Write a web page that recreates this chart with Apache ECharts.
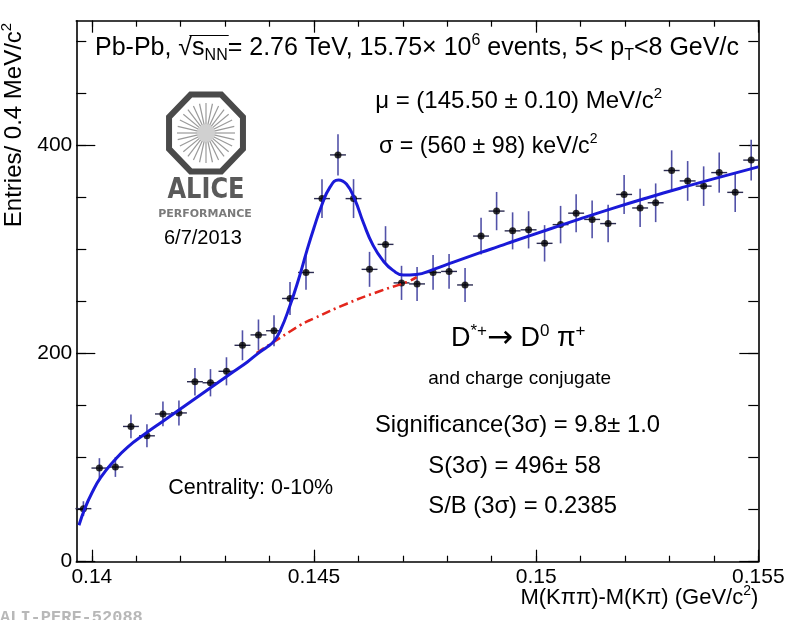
<!DOCTYPE html>
<html><head><meta charset="utf-8">
<script src="https://cdn.jsdelivr.net/npm/echarts@6/dist/echarts.min.js"></script>
<style>html,body{margin:0;padding:0;background:#fff}#c{width:785px;height:620px}</style>
</head><body><div id="c"></div>
<script>
// ---- data ----
const xCenters = [0.13981,0.14017,0.14053,0.14088,0.14124,0.14160,0.14196,0.14232,0.14267,0.14303,
  0.14339,0.14375,0.14410,0.14446,0.14482,0.14518,0.14554,0.14589,0.14625,0.14661,
  0.14697,0.14732,0.14768,0.14804,0.14840,0.14876,0.14911,0.14947,0.14983,0.15019,
  0.15055,0.15090,0.15126,0.15162,0.15198,0.15234,0.15269,0.15305,0.15341,0.15377,
  0.15412,0.15448,0.15484];
const counts = [51,90,91,130,121,142,143,173,172,183,
  208,218,222,253,278,349,391,349,281,305,
  268,267,278,279,266,313,337,318,319,306,
  324,335,329,325,353,340,345,376,366,361,
  374,355,386];
const errors = [7.1,9.5,9.5,11.4,11.0,11.9,12.0,13.2,13.1,13.5,
  14.4,14.8,14.9,15.9,16.7,18.7,19.8,18.7,16.8,17.5,
  16.4,16.3,16.7,16.7,16.3,17.7,18.4,17.8,17.9,17.5,
  18.0,18.3,18.1,18.0,18.8,18.4,18.6,19.4,19.1,19.0,
  19.3,18.8,19.6];
const fitX = [0.13971,0.13985,0.14000,0.14020,0.14050,0.14080,0.14120,0.14160,0.14200,0.14240,
  0.14280,0.14320,0.14350,0.14375,0.14395,0.14410,0.14425,0.14445,0.14465,0.14484,
  0.14500,0.14516,0.14536,0.14555,0.14573,0.14592,0.14611,0.14633,0.14656,0.14678,
  0.14701,0.14730,0.14769,0.14814,0.14874,0.14919,0.14949,0.15024,0.15099,0.15174,
  0.15249,0.15324,0.15399,0.15500];
const fitY = [35,52,66,81,97,110,123,135,147,159,
  171,183,192,200.5,206.5,212,223,245,271,299,
  321,341,360,367,363,348,326,304,289,280,
  275.5,276,281,288,297,303.5,308,318.8,329.5,339.8,
  349.6,359,368,379.5];
const bgX = [0.14371,0.14469,0.14499,0.14574,0.14649,0.14709,0.14731];
const bgY = [200.5,227.3,233.7,248,260.2,268.8,273.6];
const xMajorTicks = [0.14,0.145,0.15,0.155];
const xTickLabels = ['0.14','0.145','0.15','0.155'];
const xMinorTicks = [0.14,0.141,0.142,0.143,0.144,0.145,0.146,0.147,0.148,0.149,0.15,0.151,0.152,0.153,0.154,0.155];
const yMajorTicks = [0,200,400];
const yTickLabels = ['0','200','400'];
const yMinorTicks = [0,50,100,150,200,250,300,350,400,450,500];
const X_MIN = 0.13965, X_MAX = 0.155, Y_MIN = 0, Y_MAX = 520;
const BIN_HALF = 0.000179;

// ---- chart ----
const F = '"Liberation Sans", Arial, Helvetica, sans-serif';
const chart = echarts.init(document.getElementById('c'), null, {renderer:'canvas'});

function lookup(vals, labels, v){ for (let i=0;i<vals.length;i++){ if (Math.abs(vals[i]-v)<1e-9) return labels[i]; } return ''; }
const tickLine = {color:'#000', width:1.2};
function xAx(pos, ticks, len, showLine, showLabel){
  return {type:'value', min:X_MIN, max:X_MAX, position:pos, gridIndex:0,
    axisLine:{show:showLine, onZero:false, lineStyle:{color:'#000', width:1.6}},
    axisTick:{show:true, inside:true, length:len, customValues:ticks, lineStyle:tickLine},
    axisLabel:{show:showLabel, customValues:xMajorTicks, formatter:v=>lookup(xMajorTicks,xTickLabels,v),
      fontSize:21, fontFamily:F, color:'#000', margin:5, hideOverlap:false, showMinLabel:true, showMaxLabel:true},
    splitLine:{show:false}};
}
function yAx(pos, ticks, len, showLine, showLabel){
  return {type:'value', min:Y_MIN, max:Y_MAX, position:pos, gridIndex:0,
    axisLine:{show:showLine, onZero:false, lineStyle:{color:'#000', width:1.6}},
    axisTick:{show:true, inside:true, length:len, customValues:ticks, lineStyle:tickLine},
    axisLabel:{show:showLabel, customValues:yMajorTicks, formatter:v=>lookup(yMajorTicks,yTickLabels,v),
      fontSize:21, fontFamily:F, color:'#000', margin:4, hideOverlap:false, showMinLabel:true, showMaxLabel:true},
    splitLine:{show:false}};
}

function renderItem(params, api){
  const x = api.value(0), y = api.value(1), e = api.value(2);
  const pL = api.coord([x-BIN_HALF, y]), pR = api.coord([x+BIN_HALF, y]);
  const pT = api.coord([x, y+e]), pB = api.coord([x, y-e]);
  return {type:'group', children:[
    {type:'line', shape:{x1:pT[0],y1:pT[1],x2:pB[0],y2:pB[1]}, style:{stroke:'#5252a8', lineWidth:1.6}},
    {type:'line', shape:{x1:pL[0],y1:pL[1],x2:pR[0],y2:pR[1]}, style:{stroke:'#2c2c52', lineWidth:1.4}}
  ]};
}

// text measurement for the sqrt overline
const mctx = document.createElement('canvas').getContext('2d');
function tw(t, size){ mctx.font = size+'px '+F; return mctx.measureText(t).width; }
const TITLE_X = 95, TITLE_Y = 48, TS = 25, TSS = 16;
const olx0 = TITLE_X + tw('Pb-Pb, ', TS) + tw('√', TS)*0.8;
const olx1 = TITLE_X + tw('Pb-Pb, √s', TS) + tw('NN', TSS) + 1;

// ALICE logo pieces
const LCX = 206, LCY = 133, LR = 40;
const octPts = [];
for (let k=0;k<8;k++){ const a = Math.PI/8 + k*Math.PI/4; octPts.push([LCX + LR*Math.cos(a), LCY + LR*1.04*Math.sin(a)]); }
const rays = [];
for (let k=0;k<28;k++){ const a = k*2*Math.PI/28; rays.push({type:'line', shape:{x1:LCX+5*Math.cos(a), y1:LCY+5*Math.sin(a), x2:LCX+29*Math.cos(a), y2:LCY+30*Math.sin(a)}, style:{stroke:'#9a9a9a', lineWidth:1.2}}); }

function txt(x, y, text, size, align, extraRich){
  const ss = Math.round(size*0.62);
  return {type:'text', x:x, y:y, z:100, style:{text:text, fontSize:size, fontFamily:F, fill:'#000', align:align||'left', verticalAlign:'middle',
    rich:Object.assign({n:{fontSize:size, lineHeight:size+6, fontFamily:F, fill:'#000'},
      sup:{fontSize:ss, lineHeight:ss, verticalAlign:'top', fontFamily:F, fill:'#000'},
      sub:{fontSize:ss, lineHeight:ss, verticalAlign:'bottom', fontFamily:F, fill:'#000'}}, extraRich||{})}};
}

const graphics = [
  txt(TITLE_X, TITLE_Y, '{n|Pb-Pb, √s}{sub|NN}{n|= 2.76 TeV, 15.75× 10}{sup|6}{n| events, 5< p}{sub|T}{n|<8 GeV/c}', TS),
  {type:'line', z:100, shape:{x1:olx0, y1:TITLE_Y-12.5, x2:olx1, y2:TITLE_Y-12.5}, style:{stroke:'#000', lineWidth:1.2}},
  txt(662, 101, '{n|μ = (145.50 ± 0.10) MeV/c}{sup|2}', 24, 'right'),
  txt(379, 147, '{n|σ = (560 ± 98) keV/c}{sup|2}', 23.2),
  txt(451, 339, '{n|D}{sup|*+}{arr|→}{n| D}{sup|0}{n| π}{sup|+}', 27, 'left',
      {arr:{fontSize:31, lineHeight:33, fontFamily:'"DejaVu Sans", sans-serif', fill:'#000'}}),
  txt(428.3, 378.3, 'and charge conjugate', 19),
  txt(375, 425, 'Significance(3σ) = 9.8± 1.0', 23.8),
  txt(428.3, 466.7, 'S(3σ) = 496± 58', 23.8),
  txt(428.3, 506.7, 'S/B (3σ) = 0.2385', 23.8),
  txt(168.3, 488.3, 'Centrality: 0-10%', 21.5),
  txt(164, 238.3, '6/7/2013', 20),
  {type:'text', x:14, y:125, rotation:Math.PI/2, z:100, style:{text:'{n|Entries/ 0.4 MeV/c}{sup|2}', align:'center', verticalAlign:'middle',
    rich:{n:{fontSize:24, lineHeight:30, fontFamily:F, fill:'#000'}, sup:{fontSize:15, lineHeight:15, verticalAlign:'top', fontFamily:F, fill:'#000'}}}},
  {type:'text', x:758.3, y:598, z:100, style:{text:'{n|M(Kππ)-M(Kπ) (GeV/c}{sup|2}{n|)}', align:'right', verticalAlign:'middle',
    rich:{n:{fontSize:22, lineHeight:28, fontFamily:F, fill:'#000'}, sup:{fontSize:14, lineHeight:14, verticalAlign:'top', fontFamily:F, fill:'#000'}}}},
  {type:'text', x:0, y:609, z:100, style:{text:'ALI-PERF-52088', fontSize:17, fontFamily:'"Liberation Mono", "DejaVu Sans Mono", monospace', fontWeight:'bold', fill:'#b8b8b8', align:'left', verticalAlign:'top'}},
  // logo
  {type:'circle', z:90, shape:{cx:LCX, cy:LCY, r:9}, style:{fill:'#d0d0d0'}},
  {type:'group', z:91, children:rays},
  {type:'polygon', z:92, shape:{points:octPts}, style:{fill:'none', stroke:'#4a4a4a', lineWidth:6, lineJoin:'miter'}},
  {type:'text', x:206, y:191, scaleX:0.86, z:100, style:{text:'ALICE', fontSize:28, fontWeight:'bold', fontFamily:'"DejaVu Sans", sans-serif', fill:'#5a5a5a', align:'center', verticalAlign:'middle'}},
  {type:'text', x:205, y:214, z:100, style:{text:'PERFORMANCE', fontSize:11, fontWeight:'bold', fontFamily:'"DejaVu Sans", sans-serif', fill:'#7a7a7a', align:'center', verticalAlign:'middle'}}
];

chart.setOption({
  animation:false,
  backgroundColor:'#fff',
  grid:{left:76.3, right:26.7, top:20.7, bottom:58.3, containLabel:false, outerBoundsMode:'none'},
  xAxis:[ xAx('bottom', xMajorTicks, 12, true, true), xAx('bottom', xMinorTicks, 6, false, false),
          xAx('top', xMajorTicks, 12, true, false), xAx('top', xMinorTicks, 6, false, false) ],
  yAxis:[ yAx('left', yMajorTicks, 19, true, true), yAx('left', yMinorTicks, 10, false, false),
          yAx('right', yMajorTicks, 19, true, false), yAx('right', yMinorTicks, 10, false, false) ],
  series:[
    {type:'custom', name:'errors', xAxisIndex:0, yAxisIndex:0, renderItem:renderItem, silent:true, z:2,
      data:xCenters.map((x,i)=>[x, counts[i], errors[i]])},
    {type:'scatter', name:'data', xAxisIndex:0, yAxisIndex:0, symbol:'circle', symbolSize:7, itemStyle:{color:'#000'}, z:3, silent:true,
      data:xCenters.map((x,i)=>[x, counts[i]])},
    {type:'line', name:'background', xAxisIndex:0, yAxisIndex:0, symbol:'none', smooth:0.5, z:4, silent:true,
      lineStyle:{color:'#e3261c', width:2.6, type:[9,4,2,4]}, data:bgX.map((x,i)=>[x, bgY[i]])},
    {type:'line', name:'fit', xAxisIndex:0, yAxisIndex:0, symbol:'none', smooth:0.5, z:5, silent:true,
      lineStyle:{color:'#1a1ad8', width:3}, data:fitX.map((x,i)=>[x, fitY[i]])}
  ],
  graphic:graphics
});
</script></body></html>
